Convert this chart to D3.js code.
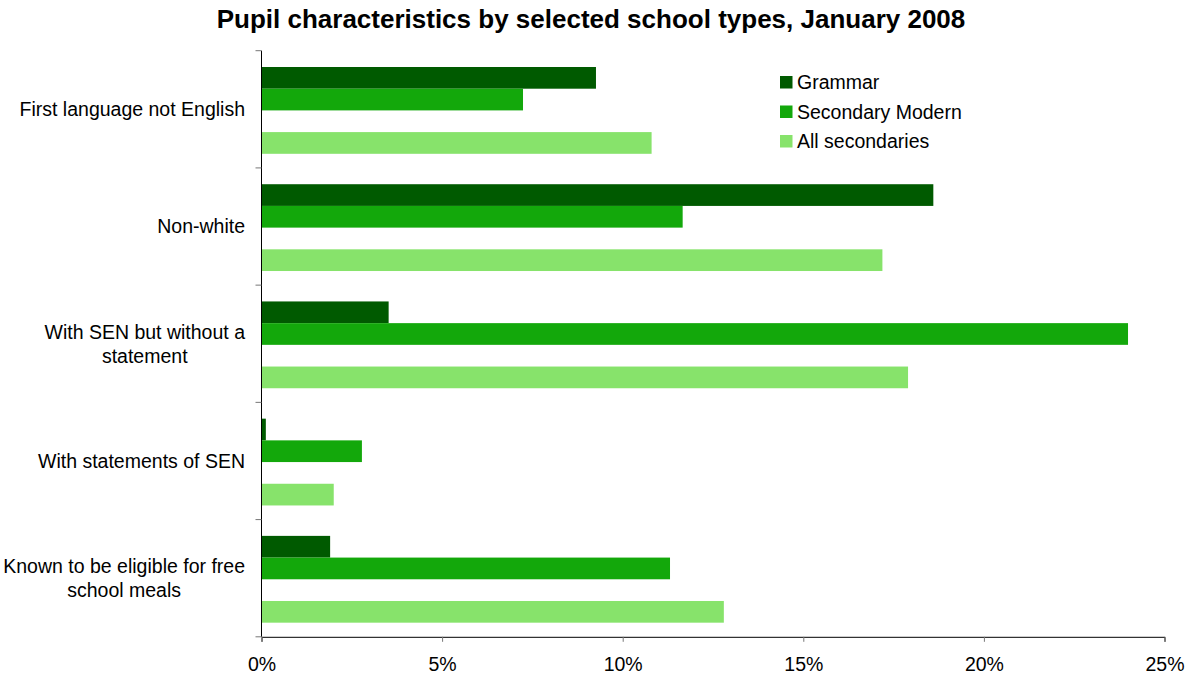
<!DOCTYPE html>
<html>
<head>
<meta charset="utf-8">
<script src="https://cdn.jsdelivr.net/npm/d3@7"></script>
<style>
  body { margin: 0; background: #fff; }
  svg { display: block; font-family: "Liberation Sans", Arial, sans-serif; }
</style>
</head>
<body>
<svg id="chart" width="1186" height="675"></svg>
<script>
const categories = [
  "First language not English",
  "Non-white",
  "With SEN but without a statement",
  "With statements of SEN",
  "Known to be eligible for free school meals"
];
const categoryLines = [
  ["First language not English"],
  ["Non-white"],
  ["With SEN but without a", "statement"],
  ["With statements of SEN"],
  ["Known to be eligible for free", "school meals"]
];
const seriesNames = ["Grammar", "Secondary Modern", "All secondaries"];
const grammar = [9.26, 18.6, 3.52, 0.12, 1.9];
const secondaryModern = [7.24, 11.66, 23.99, 2.78, 11.31];
const allSecondaries = [10.8, 17.19, 17.9, 2.0, 12.8];
const xTicks = [0, 5, 10, 15, 20, 25];
const colors = ["#005a00", "#13a80b", "#87e36b"];

const seriesValues = [grammar, secondaryModern, allSecondaries];
const svg = d3.select("#chart");

const mLeft = 261.5, mRight = 1164.5, mTop = 50.7, mBottom = 636.8;
const fs = 19.5;

const x = d3.scaleLinear().domain([0, 25]).range([mLeft, mRight]);
const y = d3.scaleBand().domain(categories).range([mTop, mBottom]).padding(0);
const slots = ["Grammar", "Secondary Modern", "_gap", "All secondaries"];
const ySub = d3.scaleBand().domain(slots).range([16.3, 16.3 + 86.8]);

// title
svg.append("text")
  .attr("x", 591).attr("y", 28)
  .attr("text-anchor", "middle")
  .attr("font-size", 26).attr("font-weight", "bold")
  .attr("fill", "#000")
  .text("Pupil characteristics by selected school types, January 2008");

// bars
seriesNames.forEach((s, si) => {
  svg.append("g").selectAll("rect")
    .data(categories.map((c, i) => ({ c, v: seriesValues[si][i] })))
    .join("rect")
    .attr("x", x(0))
    .attr("y", d => y(d.c) + ySub(s))
    .attr("width", d => x(d.v) - x(0))
    .attr("height", ySub.bandwidth())
    .attr("fill", colors[si]);
});

// x axis
const xAxis = svg.append("g")
  .attr("transform", `translate(0,${mBottom})`)
  .call(d3.axisBottom(x).tickValues(xTicks).tickFormat(d => d + "%").tickSize(5).tickPadding(15));
xAxis.select(".domain").attr("stroke", "#000");
xAxis.selectAll(".tick line").attr("stroke", "#777");
xAxis.selectAll("text").attr("font-size", fs).attr("fill", "#000")
  .attr("font-family", "'Liberation Sans', Arial, sans-serif");

// y axis: ticks at band boundaries
const boundaries = categories.map(c => y(c)).concat([y(categories[categories.length - 1]) + y.bandwidth()]);
const yAxisG = svg.append("g");
yAxisG.append("line").attr("x1", mLeft).attr("x2", mLeft).attr("y1", mTop).attr("y2", mBottom).attr("stroke", "#000");
yAxisG.selectAll("line.tk").data(boundaries).join("line").attr("class", "tk")
  .attr("x1", mLeft - 6).attr("x2", mLeft).attr("y1", d => d).attr("y2", d => d).attr("stroke", "#777");

// y labels
const labelRight = 245;
const lineH = 24;
categories.forEach((c, i) => {
  const lines = categoryLines[i];
  const g = svg.append("g");
  const cy = y(c) + y.bandwidth() / 2;
  const texts = lines.map((ln, li) => g.append("text")
    .attr("y", cy + (li - (lines.length - 1) / 2) * lineH)
    .attr("dy", "0.35em")
    .attr("font-size", fs).attr("fill", "#000")
    .attr("text-anchor", "middle")
    .text(ln));
  const widths = texts.map(t => t.node().getComputedTextLength());
  const w = Math.max(...widths);
  texts.forEach(t => t.attr("x", labelRight - w / 2));
});

// legend
const legend = svg.append("g").attr("transform", "translate(780,76)");
seriesNames.forEach((s, i) => {
  const row = legend.append("g").attr("transform", `translate(0,${i * 29.5})`);
  row.append("rect").attr("width", 12.5).attr("height", 12.5).attr("fill", colors[i]);
  row.append("text").attr("x", 17).attr("y", 6.5).attr("dy", "0.35em")
    .attr("font-size", fs).attr("fill", "#000").text(s);
});
</script>
</body>
</html>
